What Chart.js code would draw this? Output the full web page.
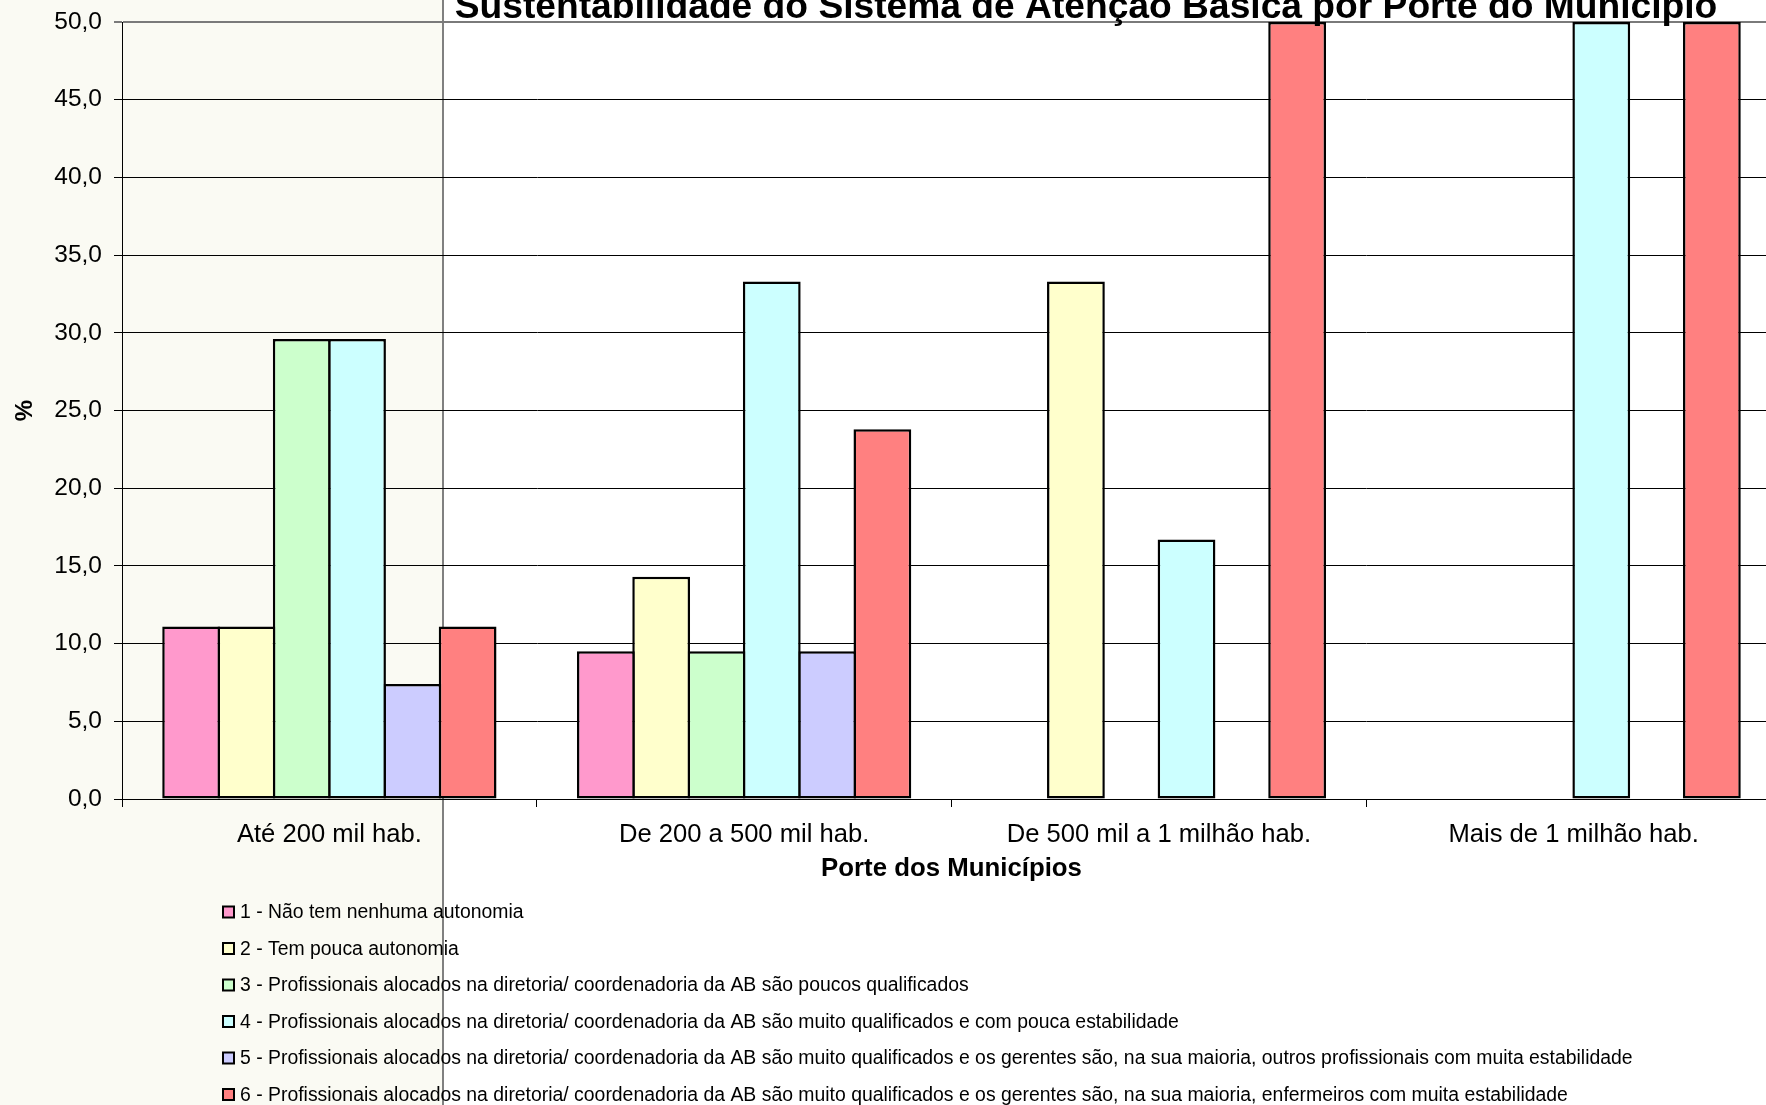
<!DOCTYPE html>
<html lang="pt-BR">
<head>
<meta charset="utf-8">
<title>Sustentabilidade do Sistema de Atenção Básica por Porte do Município</title>
<script src="https://cdn.jsdelivr.net/npm/chart.js@4/dist/chart.umd.min.js"></script>
<style>
  html, body { margin: 0; padding: 0; width: 1766px; height: 1105px; overflow: hidden; background: #ffffff; }
  #panel { position: absolute; left: 0; top: 0; width: 442px; height: 1105px; background: #FAFAF3; }
  #divider { position: absolute; left: 442px; top: 0; width: 2px; height: 1105px; background: #808080; }
  #chart { position: absolute; left: 0; top: 0; }
</style>
</head>
<body>
<div id="panel"></div>
<div id="divider"></div>
<canvas id="chart" width="1800" height="1105"></canvas>
<script>
// Porte dos municípios (categorias do eixo X)
const categories = [
  'Até 200 mil hab.',
  'De 200 a 500 mil hab.',
  'De 500 mil a 1 milhão hab.',
  'Mais de 1 milhão hab.'
];

// Respostas (séries)
const seriesLabels = [
  '1 - Não tem nenhuma autonomia',
  '2 - Tem pouca autonomia',
  '3 - Profissionais alocados na diretoria/ coordenadoria da AB são poucos qualificados',
  '4 - Profissionais alocados na diretoria/ coordenadoria da AB são muito qualificados e com pouca estabilidade',
  '5 - Profissionais alocados na diretoria/ coordenadoria da AB são muito qualificados e os gerentes são, na sua maioria, outros profissionais com muita estabilidade',
  '6 - Profissionais alocados na diretoria/ coordenadoria da AB são muito qualificados e os gerentes são, na sua maioria, enfermeiros com muita estabilidade'
];

// Percentuais por porte
const serie1 = [11.1, 9.5, 0, 0];
const serie2 = [11.1, 14.3, 33.3, 0];
const serie3 = [29.6, 9.5, 0, 0];
const serie4 = [29.6, 33.3, 16.7, 50.0];
const serie5 = [7.4, 9.5, 0, 0];
const serie6 = [11.1, 23.8, 50.0, 50.0];

const seriesColors = ['#FF99CC', '#FFFFCC', '#CCFFCC', '#CCFFFF', '#CCCCFF', '#FF8080'];

// Marcas do eixo Y
const yTickValues = [0, 5, 10, 15, 20, 25, 30, 35, 40, 45, 50];

const chartTitle = 'Sustentabilidade do Sistema de Atenção Básica por Porte do Município';
const xAxisTitle = 'Porte dos Municípios';
const yAxisTitle = '%';

const FONT = "'Liberation Sans', Arial, sans-serif";
const allSeries = [serie1, serie2, serie3, serie4, serie5, serie6];

// Barras vizinhas se sobrepõem pela espessura da borda, para que compartilhem o contorno
const datasets = allSeries.map((values, i) => ({
  label: seriesLabels[i],
  data: values,
  backgroundColor: seriesColors[i],
  borderColor: '#000000',
  borderWidth: 2.5,
  borderSkipped: false,
  categoryPercentage: 0.8,
  barPercentage: 1.045
}));

// Título centralizado sobre a área útil, parcialmente cortado pela borda superior
const topTitle = {
  id: 'topTitle',
  afterDraw(chart, args, opts) {
    const ctx = chart.ctx;
    ctx.save();
    ctx.font = opts.font;
    ctx.fillStyle = '#000';
    ctx.textAlign = 'center';
    ctx.textBaseline = 'alphabetic';
    ctx.fillText(opts.text, opts.x, opts.y);
    ctx.restore();
  }
};

// Legenda em coluna, uma série por linha
const columnLegend = {
  id: 'columnLegend',
  afterDraw(chart, args, opts) {
    const ctx = chart.ctx;
    ctx.save();
    ctx.font = opts.font;
    ctx.textAlign = 'left';
    ctx.textBaseline = 'middle';
    chart.data.datasets.forEach((ds, i) => {
      const cy = opts.top + i * opts.rowHeight;
      const bx = opts.left;
      const s = opts.box;
      ctx.fillStyle = '#000';
      ctx.fillRect(bx, cy - s / 2, s, s);
      ctx.fillStyle = ds.backgroundColor;
      ctx.fillRect(bx + 2, cy - s / 2 + 2, s - 4, s - 4);
      ctx.fillStyle = '#000';
      ctx.fillText(ds.label, bx + s + opts.gap, cy + 1);
    });
    ctx.restore();
  }
};

new Chart(document.getElementById('chart'), {
  type: 'bar',
  data: { labels: categories, datasets },
  plugins: [topTitle, columnLegend],
  options: {
    responsive: false,
    animation: false,
    layout: { padding: { top: 22, left: 0, right: 19, bottom: 0 } },
    plugins: {
      legend: { display: false },
      title: { display: false },
      tooltip: { enabled: false },
      topTitle: { text: chartTitle, font: "bold 37.2px " + FONT, x: 1086, y: 18 },
      columnLegend: { font: "19.4px " + FONT, left: 222, top: 912, rowHeight: 36.5, box: 13, gap: 5 }
    },
    scales: {
      x: {
        offset: true,
        grid: { offset: true, drawOnChartArea: false, drawTicks: true, tickLength: 8, color: '#000', lineWidth: 1 },
        border: { display: true, color: '#000', width: 1 },
        ticks: { color: '#000', font: { family: FONT, size: 25.6 }, padding: 13, maxRotation: 0, autoSkip: false },
        title: { display: true, text: xAxisTitle, color: '#000', font: { family: FONT, size: 25.8, weight: 'bold' }, padding: { top: 0, bottom: 221 } },
        afterFit(scale) { scale.height = 306; }
      },
      y: {
        min: 0,
        max: 50,
        afterBuildTicks(scale) { scale.ticks = yTickValues.map(v => ({ value: v })); },
        grid: {
          drawTicks: true,
          tickLength: 8,
          color: ctx => (ctx.tick && ctx.tick.value === 50 ? '#7a7a7a' : '#000'),
          lineWidth: ctx => (ctx.tick && ctx.tick.value === 50 ? 2 : 1)
        },
        border: { display: true, color: '#000', width: 1 },
        ticks: {
          color: '#000',
          font: { family: FONT, size: 24.5 },
          padding: 12,
          callback: v => Number(v).toFixed(1).replace('.', ',')
        },
        title: { display: true, text: yAxisTitle, color: '#000', font: { family: FONT, size: 24, weight: 'bold' }, padding: { top: 11, bottom: 0 } },
        afterFit(scale) {
          scale.width = 122;
          scale.paddingTop = 0;
          scale.paddingBottom = 0;
        }
      }
    }
  }
});
</script>
</body>
</html>
